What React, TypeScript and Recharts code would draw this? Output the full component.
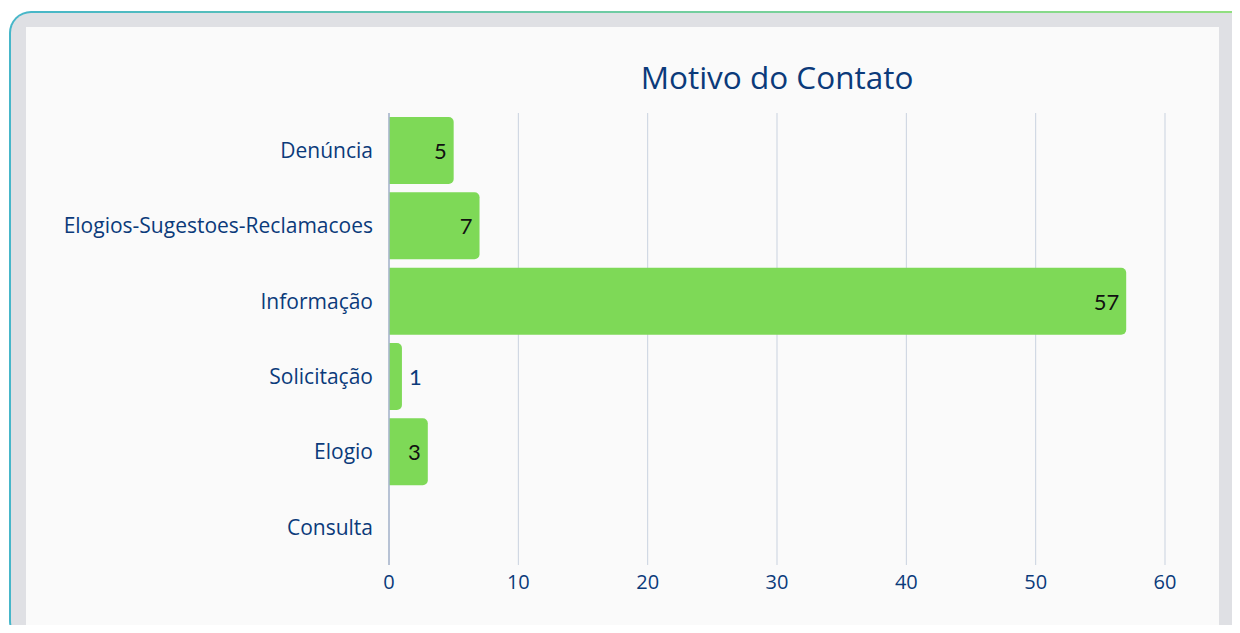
import React from "react";
import { BarChart, Bar, XAxis, YAxis, CartesianGrid, LabelList } from "recharts";

const categories = ["Denúncia", "Elogios-Sugestoes-Reclamacoes", "Informação", "Solicitação", "Elogio", "Consulta"];
const values = [5, 7, 57, 1, 3, 0];
const xTicks = [0, 10, 20, 30, 40, 50, 60];

const data = categories.map((c, i) => ({ name: c, value: values[i] }));

const BLUE = "#0b3a7a";
const FONT = "'Open Sans', 'Noto Sans', sans-serif";
const LABEL_FONT = "Lato, 'Noto Sans', sans-serif";

const ValueLabel = (props: any) => {
  const { x, y, width, height, value } = props;
  if (!value) return null;
  const cy = Number(y) + Number(height) / 2;
  if (Number(width) > 30) {
    return (
      <text x={Number(x) + Number(width) - 7} y={cy} textAnchor="end" dominantBaseline="central" fill="#111" fontSize={22} fontFamily={LABEL_FONT}>
        {value}
      </text>
    );
  }
  return (
    <text x={Number(x) + Number(width) + 7} y={cy} textAnchor="start" dominantBaseline="central" fill={BLUE} fontSize={22} fontFamily={LABEL_FONT}>
      {value}
    </text>
  );
};

export default function App() {
  return (
    <div style={{ position: "relative", width: 1240, height: 633, margin: -8, overflow: "hidden", background: "#ffffff", fontFamily: FONT }}>
      <div
        style={{
          position: "absolute",
          left: 9,
          top: 11,
          width: 1244,
          height: 632,
          borderRadius: 22,
          background: "linear-gradient(90deg, #46b6c9 0%, #6ccaa6 45%, #92e07e 100%)",
          padding: 2,
          boxSizing: "border-box",
        }}
      >
        <div style={{ width: "100%", height: "100%", borderRadius: 20, background: "#dfe0e4" }} />
      </div>
      <div style={{ position: "absolute", left: 26, top: 27, width: 1193, height: 601, background: "#fafafa" }}>
        <div
          style={{
            position: "absolute",
            left: 0,
            width: 1502,
            top: 30,
            textAlign: "center",
            fontSize: 31.5,
            color: BLUE,
            lineHeight: "40px",
            fontFamily: FONT,
          }}
        >
          Motivo do Contato
        </div>
        <div style={{ position: "absolute", left: 0, top: 0 }}>
          <BarChart
            width={1193}
            height={601}
            data={data}
            layout="vertical"
            margin={{ top: 86, right: 54, bottom: 33, left: 0 }}
          >
            <CartesianGrid horizontal={false} vertical={true} stroke="#c9d2df" strokeWidth={1} />
            <XAxis
              type="number"
              domain={[0, 60]}
              ticks={xTicks}
              axisLine={false}
              tickLine={false}
              tickSize={0}
              tickMargin={10}
              height={30}
              tick={{ fill: BLUE, fontSize: 20, fontFamily: FONT }}
            />
            <YAxis
              type="category"
              dataKey="name"
              width={363}
              axisLine={{ stroke: "#a9b6cc", strokeWidth: 1.5 }}
              tickLine={false}
              tickSize={8}
              tickMargin={8}
              tick={{ fill: BLUE, fontSize: 21, fontFamily: FONT }}
            />
            <Bar dataKey="value" fill="#7ed957" barSize={67} radius={[0, 5, 5, 0]} isAnimationActive={false}>
              <LabelList dataKey="value" content={<ValueLabel />} />
            </Bar>
          </BarChart>
        </div>
      </div>
    </div>
  );
}
